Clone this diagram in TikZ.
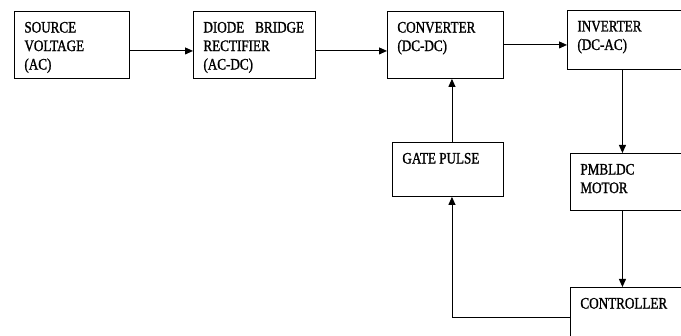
\documentclass[tikz,border=0pt]{standalone}
\usepackage{fontspec}
\setmainfont{Liberation Serif}[FakeStretch=0.82,FakeBold=1.2]
\usetikzlibrary{arrows.meta}

\begin{document}
\begin{tikzpicture}[x=1pt,y=-1pt,line width=0.9pt,>={Triangle[length=8pt,width=7pt]},
  blk/.style={draw,anchor=north west,inner sep=0pt},
  txt/.style={anchor=north west,inner sep=0pt,align=left,xshift=10pt,yshift=-10.5pt,
    font=\fontsize{16}{18.5}\selectfont}]
  \useasboundingbox (0,0) rectangle (681,336);
  \clip (0,0) rectangle (681,336);
  % bloques
  \node[blk,minimum width=115pt,minimum height=67pt,label={[txt]north west:{SOURCE\\VOLTAGE\\(AC)}}] (src) at (14,11) {};
  \node[blk,minimum width=122pt,minimum height=67pt,label={[txt]north west:{DIODE\hspace{11pt}BRIDGE\\RECTIFIER\\(AC-DC)}}] (dbr) at (193,11) {};
  \node[blk,minimum width=116pt,minimum height=67pt,label={[txt]north west:{CONVERTER\\(DC-DC)}}] (conv) at (387,11) {};
  \node[blk,minimum width=120pt,minimum height=59pt,label={[txt]north west:{INVERTER\\(DC-AC)}}] (inv) at (567,10) {};
  \node[blk,minimum width=111pt,minimum height=54pt,label={[txt]north west:{GATE PULSE}}] (gate) at (392,142) {};
  \node[blk,minimum width=114pt,minimum height=57pt,label={[txt]north west:{PMBLDC\\MOTOR}}] (mot) at (570,153) {};
  \node[blk,minimum width=114pt,minimum height=60pt,label={[txt]north west:{CONTROLLER}}] (ctl) at (570,287) {};
  % flechas de potencia
  \draw[->] ([yshift=-6pt]src.east) -- ([yshift=-6pt]dbr.west);
  \draw[->] ([yshift=-6pt]dbr.east) -- ([yshift=-6pt]conv.west);
  \draw[->] (conv.east) -- (conv.east -| inv.west);
  \draw[->] ([xshift=-5pt]inv.south) -- ([xshift=-5pt]inv.south |- mot.north);
  \draw[->] ([xshift=-5pt]mot.south) -- ([xshift=-5pt]ctl.north);
  % lazo de control
  \draw[->] (ctl.west) -| ([xshift=4pt]gate.south);
  \draw[->] ([xshift=4pt]gate.north) -- ([xshift=4pt]gate.north |- conv.south);
\end{tikzpicture}
\end{document}
